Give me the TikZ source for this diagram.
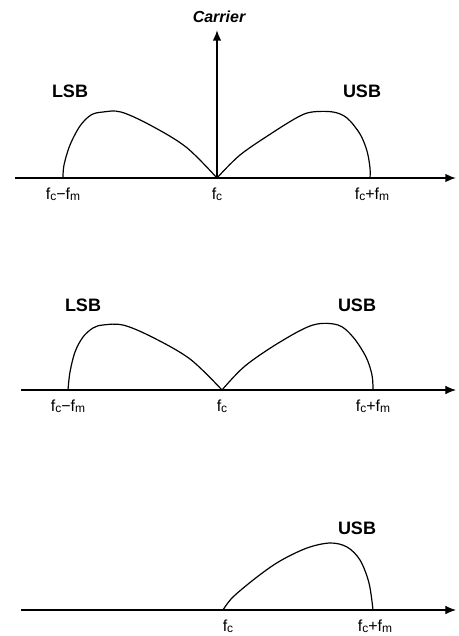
\documentclass[tikz,border=0pt]{standalone}
\usepackage{fontspec}
\setmainfont{Liberation Sans}
\usetikzlibrary{arrows.meta}
\newcommand{\sbs}[1]{{\fontsize{9}{9}\selectfont\raisebox{-0.5pt}{#1}}}
\begin{document}
\begin{tikzpicture}[x=0.75pt,y=-0.75pt,
  axisline/.style={line width=1.3pt,-{Latex[length=8pt,width=6.5pt]}},
  axisthin/.style={line width=0.8pt,-{Latex[length=8pt,width=6.5pt]}},
  band/.style={line width=0.9pt},
  sbl/.style={font=\bfseries\fontsize{13.5}{15}\selectfont},
  flab/.style={font=\fontsize{12}{13}\selectfont},
  ]
\useasboundingbox (0,0) rectangle (458,636);
% ---------- top panel ----------
\coordinate (a1s) at (15,178);
\coordinate (a1e) at (456,178);
\coordinate (fc1) at (217,178);
\coordinate (car) at (217,30);
\draw[axisline] (a1s) -- (a1e);
\draw[axisline] (fc1) -- (car);
\node[font=\bfseries\itshape\fontsize{12}{13}\selectfont] (carrier) at (219,17) {Carrier};
\draw[band] plot[smooth,tension=0.55] coordinates {(63,178) (64,165) (70,145) (80,126) (91,115) (103,112) (121,112) (150,125) (186,147) (217,178)};
\draw[band] plot[smooth,tension=0.55] coordinates {(217,178) (240,155) (272,133) (298,117) (312,112) (333,112) (347,118) (360,134) (367,151) (370,168) (370,178)};
\node[sbl] (lsb1) at (70,91) {LSB};
\node[sbl] (usb1) at (362,91) {USB};
\node[flab] (l1a) at (63,194) {f\sbs{c}−f\sbs{m}};
\node[flab] (l1b) at (217,194) {f\sbs{c}};
\node[flab] (l1c) at (372,194) {f\sbs{c}+f\sbs{m}};
% ---------- middle panel ----------
\coordinate (a2s) at (21,390);
\coordinate (a2e) at (456,390);
\coordinate (fc2) at (222,390);
\draw[axisthin] (a2s) -- (a2e);
\draw[band] plot[smooth,tension=0.55] coordinates {(68,390) (70,372) (75,352) (83,337) (93,328) (103,325) (123,325) (152,337) (190,359) (222,390)};
\draw[band] plot[smooth,tension=0.55] coordinates {(222,390) (245,366) (280,342) (313,325) (338,325) (353,337) (366,357) (372,375) (373,390)};
\node[sbl] (lsb2) at (83,305) {LSB};
\node[sbl] (usb2) at (357,305) {USB};
\node[flab] (l2a) at (68,406) {f\sbs{c}−f\sbs{m}};
\node[flab] (l2b) at (222,406) {f\sbs{c}};
\node[flab] (l2c) at (373,406) {f\sbs{c}+f\sbs{m}};
% ---------- bottom panel ----------
\coordinate (a3s) at (21,610);
\coordinate (a3e) at (456,610);
\coordinate (fc3) at (223,610);
\draw[axisthin] (a3s) -- (a3e);
\draw[band] plot[smooth,tension=0.55] coordinates {(223,610) (233,597) (257,577) (280,561) (307,548) (330,543) (347,547) (360,560) (369,583) (373,610)};
\node[sbl] (usb3) at (357,528) {USB};
\node[flab] (l3b) at (228,626) {f\sbs{c}};
\node[flab] (l3c) at (375,626) {f\sbs{c}+f\sbs{m}};
\end{tikzpicture}
\end{document}
